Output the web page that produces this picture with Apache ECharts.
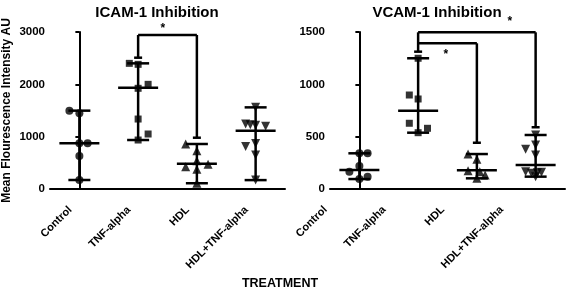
<!DOCTYPE html>
<html>
<head>
<meta charset="utf-8">
<script src="https://cdn.jsdelivr.net/npm/echarts@6/dist/echarts.min.js"></script>
<style>
    html, body { margin: 0; padding: 0; background: #fff; }
    #chart { width: 567px; height: 287px; }
</style>
</head>
<body>
<div id="chart"></div>
<script>
// categories and tick labels
var categories = ['Control', 'TNF-alpha', 'HDL', 'HDL+TNF-alpha'];
var icamTicks = [0, 1000, 2000, 3000];
var vcamTicks = [0, 500, 1000, 1500];

// ICAM-1 points per group, with horizontal jitter (category units)
var icamControl = [1497, 1446, 873, 873, 631, 172];
var icamControlJit = [-0.17, 0, 0, 0.14, 0, 0];
var icamTnf = [2401, 2382, 2000, 1924, 1337, 1051, 936];
var icamTnfJit = [-0.15, 0, 0.17, 0, 0, 0.17, 0];
var icamHdl = [860, 732, 541, 472, 426, 376, 110];
var icamHdlJit = [-0.19, 0, 0, 0.19, -0.19, 0, 0];
var icamHdlTnf = [1560, 1240, 1230, 1220, 1200, 870, 810, 650, 170];
var icamHdlTnfJit = [0, -0.17, -0.09, 0, 0.17, 0, -0.17, 0, 0];
var icamMedian = [873, 1937, 483, 1114];

// VCAM-1 points per group
var vcamControl = [341, 341, 220, 166, 95, 118];
var vcamControlJit = [0, 0.14, 0, -0.17, 0, 0.14];
var vcamTnf = [1249, 898, 860, 628, 538, 580];
var vcamTnfJit = [0, -0.15, 0, -0.15, 0, 0.16];
var vcamHdl = [334, 284, 175, 165, 134, 102];
var vcamHdlJit = [-0.15, 0, -0.15, 0.05, 0.14, 0];
var vcamHdlTnf = [516, 420, 379, 325, 165, 150, 155, 160, 118];
var vcamHdlTnfJit = [0, 0, -0.17, 0, -0.17, -0.07, 0.03, 0.1, 0];
var vcamMedian = [182, 747, 180, 229];

// significance brackets: [from, to, top, left leg end, right leg end]
var icamBrackets = [[1, 2, 2943, 2509, 980]];
var icamStars = [[1.42, 3057]];
var vcamBrackets = [[1, 3, 1497, 1312, 590], [1, 2, 1392, 1392, 442]];
var vcamStars = [[2.56, 1595], [1.47, 1280]];

var symbols = ['circle', 'rect', 'triangle', 'triangle'];
var symbolRot = [0, 0, 0, 180];
var symbolSizes = [8, 7, 9, 9];
var FONT = 'Arial, "Liberation Sans", sans-serif';

function pts(vals, jit, idx){
    return vals.map(function(v, i){ return [idx + jit[i], v]; });
}

function rangeRows(groups, medians){
    return groups.map(function(g, i){
        return [i, Math.min.apply(null, g), Math.max.apply(null, g), medians[i]];
    });
}

function seg(x1, y1, x2, y2, w){
    return {type: 'line', shape: {x1: x1, y1: y1, x2: x2, y2: y2},
            style: {stroke: '#000', lineWidth: w || 2.5}};
}

function renderRange(params, api){
    var x = api.value(0);
    var lo = api.coord([x, api.value(1)]);
    var hi = api.coord([x, api.value(2)]);
    var mid = api.coord([x, api.value(3)]);
    var cap = 11, half = 20;
    return {type: 'group', children: [
        seg(lo[0], lo[1], hi[0], hi[1]),
        seg(lo[0] - cap, lo[1], lo[0] + cap, lo[1]),
        seg(hi[0] - cap, hi[1], hi[0] + cap, hi[1]),
        seg(mid[0] - half, mid[1], mid[0] + half, mid[1])
    ]};
}

function renderBracket(params, api){
    var a = api.value(0), b = api.value(1), top = api.value(2);
    var l = api.value(3), r = api.value(4);
    var pa = api.coord([a, top]), pb = api.coord([b, top]);
    var pl = api.coord([a, l]), pr = api.coord([b, r]);
    var cap = 4;
    var kids = [seg(pa[0], pa[1], pb[0], pb[1]), seg(pb[0], pb[1], pr[0], pr[1]),
                seg(pr[0] - cap, pr[1], pr[0] + cap, pr[1])];
    if(l < top){
        kids.push(seg(pa[0], pa[1], pl[0], pl[1]));
        kids.push(seg(pl[0] - cap, pl[1], pl[0] + cap, pl[1]));
    }
    return {type: 'group', children: kids};
}

function renderStar(params, api){
    var p = api.coord([api.value(0), api.value(1)]);
    return {type: 'text', x: p[0], y: p[1],
            style: {text: '*', font: 'bold 12px ' + FONT, fill: '#000',
                    align: 'center', verticalAlign: 'middle'}};
}

// the two panels place their rotated labels a little differently
function catAxis(grid, margin, pad){
    return {
        type: 'category', gridIndex: grid, data: categories,
        axisLine: {lineStyle: {color: '#000', width: 2}},
        axisTick: {alignWithLabel: true, length: 5, lineStyle: {color: '#000', width: 2}},
        axisLabel: {rotate: 45, color: '#000', fontWeight: 'bold', fontSize: 11,
                    fontFamily: FONT, margin: margin, padding: [0, pad, 0, 0], interval: 0}
    };
}

function valXAxis(grid){
    return {type: 'value', gridIndex: grid, min: -0.5, max: 3.5, show: false};
}

function valYAxis(grid, ticks){
    return {
        type: 'value', gridIndex: grid, min: ticks[0], max: ticks[ticks.length - 1],
        interval: ticks[1] - ticks[0],
        axisLine: {show: true, lineStyle: {color: '#000', width: 2}},
        axisTick: {show: true, length: 4, lineStyle: {color: '#000', width: 2}},
        splitLine: {show: false},
        axisLabel: {color: '#000', fontWeight: 'bold', fontSize: 11.5, fontFamily: FONT, margin: 5,
                    formatter: function(v){ return String(v); }}
    };
}

function panelSeries(groups, jits, medians, brackets, stars, xi, yi){
    var out = [];
    groups.forEach(function(g, i){
        out.push({
            type: 'scatter', xAxisIndex: xi, yAxisIndex: yi,
            symbol: symbols[i], symbolRotate: symbolRot[i], symbolSize: symbolSizes[i],
            itemStyle: {color: '#000'}, data: pts(g, jits[i], i), z: 3
        });
    });
    out.push({type: 'custom', xAxisIndex: xi, yAxisIndex: yi, renderItem: renderRange,
              encode: {x: 0, y: [1, 2, 3]}, data: rangeRows(groups, medians), z: 2});
    out.push({type: 'custom', xAxisIndex: xi, yAxisIndex: yi, renderItem: renderBracket,
              encode: {x: [0, 1], y: [2, 3, 4]}, data: brackets, clip: false, z: 2});
    out.push({type: 'custom', xAxisIndex: xi, yAxisIndex: yi, renderItem: renderStar,
              encode: {x: 0, y: 1}, data: stars, clip: false, z: 4});
    return out;
}

var chart = echarts.init(document.getElementById('chart'), null, {renderer: 'canvas'});

var yName = {
    name: 'Mean Flourescence Intensity AU', nameLocation: 'middle', nameGap: 37,
    nameTextStyle: {color: '#000', fontWeight: 'bold', fontSize: 12, fontFamily: FONT}
};
var yLeft = Object.assign(valYAxis(0, icamTicks), yName);

var option = {
    animation: false,
    backgroundColor: '#fff',
    title: [
        {text: 'ICAM-1 Inhibition', left: 152, top: 0, textAlign: 'center',
         textStyle: {color: '#000', fontWeight: 'bold', fontSize: 15, fontFamily: FONT}},
        {text: 'VCAM-1 Inhibition', left: 432, top: 0, textAlign: 'center',
         textStyle: {color: '#000', fontWeight: 'bold', fontSize: 15, fontFamily: FONT}},
        {text: 'TREATMENT', left: 275, top: 272, textAlign: 'center',
         textStyle: {color: '#000', fontWeight: 'bold', fontSize: 12.5, fontFamily: FONT}}
    ],
    grid: [
        {left: 50, right: 282, top: 32, bottom: 98},
        {left: 330, right: 2, top: 32, bottom: 98}
    ],
    xAxis: [catAxis(0, 10, 13), valXAxis(0), catAxis(1, -15, 48), valXAxis(1)],
    yAxis: [yLeft, valYAxis(1, vcamTicks)],
    series: [].concat(
        panelSeries([icamControl, icamTnf, icamHdl, icamHdlTnf],
                    [icamControlJit, icamTnfJit, icamHdlJit, icamHdlTnfJit],
                    icamMedian, icamBrackets, icamStars, 1, 0),
        panelSeries([vcamControl, vcamTnf, vcamHdl, vcamHdlTnf],
                    [vcamControlJit, vcamTnfJit, vcamHdlJit, vcamHdlTnfJit],
                    vcamMedian, vcamBrackets, vcamStars, 3, 1)
    )
};
chart.setOption(option);
</script>
</body>
</html>
